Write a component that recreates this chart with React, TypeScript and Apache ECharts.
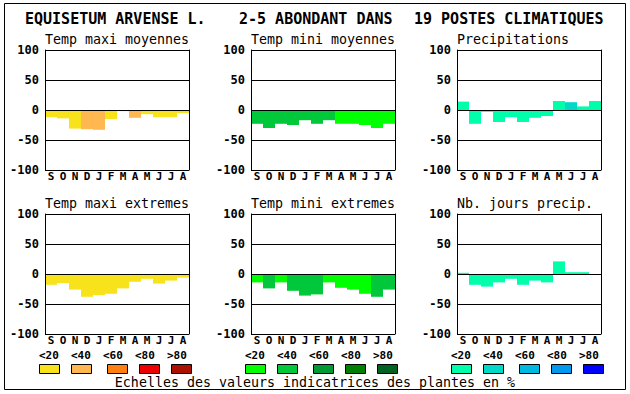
import React, { useEffect, useRef } from 'react';
import * as echarts from 'echarts';

const months = ['S', 'O', 'N', 'D', 'J', 'F', 'M', 'A', 'M', 'J', 'J', 'A'];

const tmaxMoy = [-12, -14, -31, -32, -33, -15, -2, -13, -7, -12, -12, -5];
const tmaxMoyCls = [0, 0, 0, 1, 1, 0, 0, 1, 0, 0, 0, 0];
const tminMoy = [-23, -30, -23, -25, -17, -23, -17, -23, -23, -25, -30, -23];
const tminMoyCls = [1, 1, 1, 1, 1, 1, 1, 0, 0, 0, 0, 0];
const precip = [14, -23, -3, -20, -12, -20, -13, -10, 15, 13, 6, 15];
const precipCls = [0, 0, 0, 0, 0, 0, 0, 0, 0, 1, 0, 0];
const tmaxExt = [-18, -15, -26, -38, -35, -33, -24, -13, -8, -16, -11, -6];
const tmaxExtCls = [0, 0, 0, 0, 0, 0, 0, 0, 0, 0, 0, 0];
const tminExt = [-14, -24, -14, -28, -36, -34, -14, -23, -26, -33, -38, -26];
const tminExtCls = [0, 1, 0, 1, 1, 1, 0, 0, 0, 0, 1, 1];
const nbJours = [2, -18, -21, -14, -8, -18, -11, -14, 21, 3, 3, 0];
const nbJoursCls = [0, 0, 0, 0, 0, 0, 0, 0, 0, 0, 0, 0];

const classLabels = ['<20', '<40', '<60', '<80', '>80'];
const warm = ['#f8e21c', '#ffb84f', '#ff8010', '#ee0000', '#aa1100'];
const green = ['#00ff00', '#00c83a', '#009933', '#008000', '#006420'];
const blue = ['#00ffaa', '#00d8c8', '#00b8e0', '#0099ee', '#0000ff'];

const titleParts = ['EQUISETUM ARVENSE L.', '2-5 ABONDANT DANS', '19 POSTES CLIMATIQUES'];
const caption = 'Echelles des valeurs indicatrices des plantes en %';

const panels = [
  { title: 'Temp maxi moyennes', values: tmaxMoy, cls: tmaxMoyCls, pal: warm },
  { title: 'Temp mini moyennes', values: tminMoy, cls: tminMoyCls, pal: green },
  { title: 'Precipitations', values: precip, cls: precipCls, pal: blue },
  { title: 'Temp maxi extremes', values: tmaxExt, cls: tmaxExtCls, pal: warm },
  { title: 'Temp mini extremes', values: tminExt, cls: tminExtCls, pal: green },
  { title: 'Nb. jours precip.', values: nbJours, cls: nbJoursCls, pal: blue },
];

const MONO = 'DejaVu Sans Mono';
const colLefts = [45, 251, 457];
const rowTops = [50, 214];
const plotW = 144;
const plotH = 120;

export default function App() {
  const ref = useRef<HTMLDivElement>(null);
  useEffect(() => {
    if (!ref.current) return;
    const chart = echarts.init(ref.current, undefined, { renderer: 'svg' });
    const grids: any[] = [];
    const xAxes: any[] = [];
    const yAxes: any[] = [];
    const series: any[] = [];
    const graphic: any[] = [];

    graphic.push({
      type: 'rect',
      shape: { x: 4.5, y: 3.5, width: 621, height: 386 },
      style: { fill: 'none', stroke: '#000', lineWidth: 1 },
    });
    const titleX = [25, 239, 414];
    titleParts.forEach((t, i) => {
      graphic.push({
        type: 'text',
        x: titleX[i],
        y: 19,
        style: {
          text: t,
          fontFamily: MONO,
          fontSize: 15,
          fontWeight: 'bold',
          fill: '#000',
          textVerticalAlign: 'middle',
        },
      });
    });

    panels.forEach((p, i) => {
      const col = i % 3;
      const row = Math.floor(i / 3);
      const left = colLefts[col];
      const top = rowTops[row];
      grids.push({ left, top, width: plotW, height: plotH, show: false, containLabel: false });
      xAxes.push({
        gridIndex: i,
        type: 'category',
        data: months,
        axisTick: { show: false },
        axisLine: { show: false, onZero: false },
        splitLine: { show: false },
        axisLabel: {
          interval: 0,
          margin: 1,
          color: '#000',
          fontFamily: MONO,
          fontSize: 11,
          fontWeight: 'bold',
        },
      });
      yAxes.push({
        gridIndex: i,
        type: 'value',
        min: -100,
        max: 100,
        interval: 50,
        position: 'left',
        z: 5,
        axisLine: { show: true, onZero: false, lineStyle: { color: '#000', width: 1 } },
        axisTick: { show: false },
        splitLine: { show: true, lineStyle: { color: '#000', width: 1 } },
        axisLabel: {
          margin: 6,
          color: '#000',
          fontFamily: MONO,
          fontSize: 12,
          fontWeight: 'bold',
        },
      });
      yAxes.push({
        gridIndex: i,
        type: 'value',
        min: -100,
        max: 100,
        interval: 50,
        position: 'right',
        z: 5,
        axisLine: { show: true, onZero: false, lineStyle: { color: '#000', width: 1 } },
        axisTick: { show: false },
        splitLine: { show: false },
        axisLabel: { show: false },
      });
      series.push({
        type: 'bar',
        xAxisIndex: i,
        yAxisIndex: i * 2,
        barWidth: '100%',
        barCategoryGap: 0,
        data: p.values.map((v, j) => ({ value: v, itemStyle: { color: p.pal[p.cls[j]] } })),
      });
      graphic.push({
        type: 'text',
        x: left,
        y: top - 11,
        style: {
          text: p.title,
          fontFamily: MONO,
          fontSize: 13.3,
          fill: '#000',
          textVerticalAlign: 'middle',
        },
      });
    });

    const labelOffsets = [0, 32, 64, 96, 128];
    const boxOffsets = [0, 32, 68, 100, 132];
    const pals = [warm, green, blue];
    pals.forEach((pal, g) => {
      const gx = colLefts[g] - 6;
      classLabels.forEach((lab, k) => {
        graphic.push({
          type: 'text',
          x: gx + labelOffsets[k],
          y: 355,
          style: {
            text: lab,
            fontFamily: MONO,
            fontSize: 11,
            fontWeight: 'bold',
            fill: '#000',
            textVerticalAlign: 'middle',
          },
        });
        graphic.push({
          type: 'rect',
          shape: { x: gx + boxOffsets[k] + 0.5, y: 364.5, width: 20, height: 9 },
          style: { fill: pal[k], stroke: '#000', lineWidth: 1 },
        });
      });
    });

    graphic.push({
      type: 'text',
      x: 315,
      y: 382,
      style: {
        text: caption,
        fontFamily: MONO,
        fontSize: 13.3,
        fill: '#000',
        textAlign: 'center',
        textVerticalAlign: 'middle',
      },
    });

    chart.setOption({
      animation: false,
      backgroundColor: '#fff',
      grid: grids,
      xAxis: xAxes,
      yAxis: yAxes,
      series,
      graphic,
    });
    return () => chart.dispose();
  }, []);
  return (
    <div
      ref={ref}
      style={{ position: 'fixed', left: 0, top: 0, width: 630, height: 394 }}
    />
  );
}
